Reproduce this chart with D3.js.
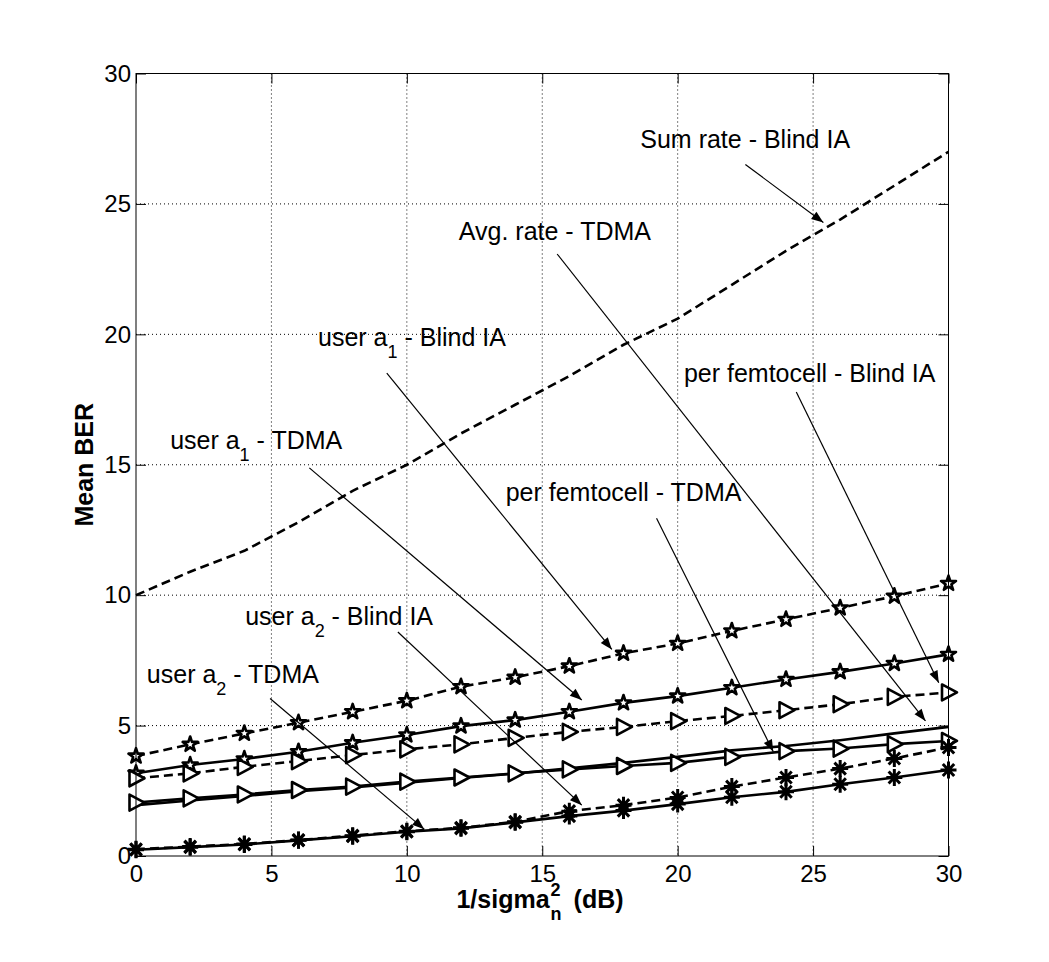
<!DOCTYPE html>
<html>
<head>
<meta charset="utf-8">
<script src="https://cdn.jsdelivr.net/npm/d3@7"></script>
<style>
  body { margin: 0; background: #fff; }
  svg { display: block; font-family: "Liberation Sans", Arial, Helvetica, sans-serif; }
</style>
</head>
<body>
<svg id="chart" width="1049" height="962"></svg>
<script>
// x values (dB), one point every 2 dB
const snr = [0, 2, 4, 6, 8, 10, 12, 14, 16, 18, 20, 22, 24, 26, 28, 30];

// values
const sumRateBlind = [10.0, 10.9, 11.7, 12.8, 14.0, 15.0, 16.2, 17.3, 18.4, 19.6, 20.6, 21.9, 23.2, 24.4, 25.7, 27.0];
const userA1Blind  = [3.83, 4.28, 4.70, 5.11, 5.53, 5.95, 6.49, 6.85, 7.28, 7.77, 8.15, 8.63, 9.07, 9.51, 9.96, 10.45];
const userA1Tdma   = [3.17, 3.49, 3.72, 4.00, 4.34, 4.64, 4.98, 5.21, 5.53, 5.87, 6.13, 6.45, 6.77, 7.06, 7.38, 7.73];
const femtoBlind   = [2.98, 3.17, 3.42, 3.64, 3.87, 4.09, 4.28, 4.53, 4.76, 4.95, 5.17, 5.37, 5.59, 5.82, 6.10, 6.27];
const avgRateTdma  = [1.95, 2.13, 2.30, 2.48, 2.63, 2.81, 2.99, 3.16, 3.36, 3.57, 3.80, 4.05, 4.22, 4.44, 4.70, 4.95];
const femtoTdma    = [2.05, 2.21, 2.36, 2.53, 2.66, 2.85, 3.01, 3.17, 3.32, 3.45, 3.57, 3.80, 4.02, 4.12, 4.29, 4.41];
const userA2Blind  = [0.26, 0.36, 0.46, 0.61, 0.78, 0.95, 1.08, 1.31, 1.72, 1.95, 2.24, 2.66, 3.01, 3.35, 3.74, 4.16];
const userA2Tdma   = [0.24, 0.34, 0.44, 0.60, 0.76, 0.93, 1.06, 1.29, 1.53, 1.74, 1.99, 2.25, 2.46, 2.75, 3.01, 3.30];

const xTicks = [0, 5, 10, 15, 20, 25, 30];
const yTicks = [0, 5, 10, 15, 20, 25, 30];

// text + arrow annotations, in data units
const notes = [
  { pre: "Sum rate - Blind IA", sub: "", post: "", tx: 18.62, ty: 27.16, x1: 22.5, y1: 26.51, x2: 25.38, y2: 24.29 },
  { pre: "Avg. rate - TDMA", sub: "", post: "", tx: 11.92, ty: 23.6, x1: 15.55, y1: 23.08, x2: 29.15, y2: 5.18 },
  { pre: "user a", sub: "1", post: " - Blind IA", tx: 6.72, ty: 19.56, x1: 9.26, y1: 18.51, x2: 17.57, y2: 7.92 },
  { pre: "user a", sub: "1", post: " - TDMA", tx: 1.26, ty: 15.59, x1: 6.40, y1: 14.88, x2: 16.46, y2: 5.98 },
  { pre: "per femtocell - Blind IA", sub: "", post: "", tx: 20.23, ty: 18.19, x1: 24.38, y1: 17.79, x2: 29.64, y2: 6.64 },
  { pre: "per femtocell - TDMA", sub: "", post: "", tx: 13.65, ty: 13.6, x1: 19.22, y1: 12.95, x2: 23.53, y2: 4.0 },
  { pre: "user a", sub: "2", post: " - Blind IA", tx: 4.03, ty: 8.85, x1: 9.67, y1: 8.59, x2: 16.46, y2: 1.95 },
  { pre: "user a", sub: "2", post: " - TDMA", tx: 0.40, ty: 6.62, x1: 4.95, y1: 6.04, x2: 10.64, y2: 1.03 }
];

const series = [
  { values: sumRateBlind, dashed: true,  marker: null },
  { values: avgRateTdma,  dashed: false, marker: null },
  { values: userA1Blind,  dashed: true,  marker: "star" },
  { values: userA1Tdma,   dashed: false, marker: "star" },
  { values: femtoBlind,   dashed: true,  marker: "tri" },
  { values: femtoTdma,    dashed: false, marker: "tri" },
  { values: userA2Blind,  dashed: true,  marker: "ast" },
  { values: userA2Tdma,   dashed: false, marker: "ast" }
];

const svg = d3.select("#chart");
const plot = { left: 136, right: 948.5, top: 73.5, bottom: 856 };

const x = d3.scaleLinear().domain([0, 30]).range([plot.left, plot.right]);
const y = d3.scaleLinear().domain([0, 30]).range([plot.bottom, plot.top]);

// dotted grid
const grid = svg.append("g").attr("stroke", "#000").attr("stroke-width", 1).attr("stroke-dasharray", "1,3");
grid.selectAll(".gx").data(xTicks.slice(1, -1)).enter().append("line")
  .attr("x1", d => x(d)).attr("x2", d => x(d)).attr("y1", plot.top).attr("y2", plot.bottom);
grid.selectAll(".gy").data(yTicks.slice(1, -1)).enter().append("line")
  .attr("x1", plot.left).attr("x2", plot.right).attr("y1", d => y(d)).attr("y2", d => y(d));

// curves
const line = d3.line().x((d, i) => x(snr[i])).y(d => y(d));
svg.append("g").selectAll("path").data(series).enter().append("path")
  .attr("d", d => line(d.values))
  .attr("fill", "none")
  .attr("stroke", "#000")
  .attr("stroke-width", 2.6)
  .attr("stroke-dasharray", d => d.dashed ? "9,5" : null);

// markers
const starPath = d3.symbol(d3.symbolStar, 70)();
const triPath = "M-6.5,-8L8.5,0L-6.5,8Z";
const astPath = "M-8,0L8,0M0,-8.5L0,8.5M-5.7,-6L5.7,6M-5.7,6L5.7,-6";
const markerPath = { star: starPath, tri: triPath, ast: astPath };

series.filter(s => s.marker).forEach(s => {
  svg.append("g").selectAll("path").data(s.values).enter().append("path")
    .attr("transform", (d, i) => "translate(" + x(snr[i]) + "," + y(d) + ")")
    .attr("d", markerPath[s.marker])
    .attr("fill", s.marker === "ast" ? "none" : "#fff")
    .attr("stroke", "#000")
    .attr("stroke-width", s.marker === "ast" ? 3 : 2.6)
    .attr("stroke-linejoin", "round");
});

// annotations
const ann = svg.append("g");
notes.forEach(n => {
  const t = ann.append("text")
    .attr("x", x(n.tx)).attr("y", y(n.ty))
    .attr("font-size", 25).attr("fill", "#000");
  t.append("tspan").text(n.pre);
  if (n.sub) {
    t.append("tspan").attr("font-size", 18).attr("dy", 12).text(n.sub);
    t.append("tspan").attr("dy", -12).text(n.post);
  }
  const ax1 = x(n.x1), ay1 = y(n.y1), ax2 = x(n.x2), ay2 = y(n.y2);
  ann.append("line")
    .attr("x1", ax1).attr("y1", ay1).attr("x2", ax2).attr("y2", ay2)
    .attr("stroke", "#000").attr("stroke-width", 1.2);
  const ang = Math.atan2(ay2 - ay1, ax2 - ax1) * 180 / Math.PI;
  ann.append("path")
    .attr("d", "M0,0L-12,-4.5L-12,4.5Z")
    .attr("transform", "translate(" + ax2 + "," + ay2 + ") rotate(" + ang + ")")
    .attr("fill", "#000");
});

// axes, ticks pointing inward on all four sides
const axisFont = g => g.selectAll("text").attr("font-size", 24).attr("fill", "#000")
  .attr("font-family", "'Liberation Sans', Arial, Helvetica, sans-serif");
const clean = g => { g.select(".domain").remove(); g.selectAll("line").attr("stroke", "#000"); };

svg.append("g").attr("transform", "translate(0," + plot.bottom + ")")
  .call(d3.axisBottom(x).tickValues(xTicks).tickSizeInner(-10).tickSizeOuter(0).tickPadding(9))
  .call(clean).call(axisFont);
svg.append("g").attr("transform", "translate(" + plot.left + ",0)")
  .call(d3.axisLeft(y).tickValues(yTicks).tickSizeInner(-10).tickSizeOuter(0).tickPadding(5))
  .call(clean).call(axisFont);
svg.append("g").attr("transform", "translate(0," + plot.top + ")")
  .call(d3.axisTop(x).tickValues(xTicks).tickSizeInner(-10).tickSizeOuter(0).tickFormat(""))
  .call(clean);
svg.append("g").attr("transform", "translate(" + plot.right + ",0)")
  .call(d3.axisRight(y).tickValues(yTicks).tickSizeInner(-10).tickSizeOuter(0).tickFormat(""))
  .call(clean);

svg.append("rect")
  .attr("x", plot.left).attr("y", plot.top)
  .attr("width", plot.right - plot.left).attr("height", plot.bottom - plot.top)
  .attr("fill", "none").attr("stroke", "#000").attr("stroke-width", 1);

// axis titles
svg.append("text")
  .attr("transform", "translate(93," + ((plot.top + plot.bottom) / 2) + ") rotate(-90)")
  .attr("text-anchor", "middle").attr("font-size", 25).attr("font-weight", "bold")
  .text("Mean BER");

const xl = svg.append("g").attr("font-weight", "bold").attr("font-size", 25);
const xl1 = xl.append("text").text("1/sigma");
const w1 = xl1.node().getComputedTextLength();
xl.append("text").attr("x", w1 + 1).attr("y", -12).attr("font-size", 18).text("2");
xl.append("text").attr("x", w1 + 1).attr("y", 12).attr("font-size", 18).text("n");
const xl3 = xl.append("text").attr("x", w1 + 24).text("(dB)");
const wAll = w1 + 24 + xl3.node().getComputedTextLength();
xl.attr("transform", "translate(" + (540 - wAll / 2) + ",908)");
</script>
</body>
</html>
